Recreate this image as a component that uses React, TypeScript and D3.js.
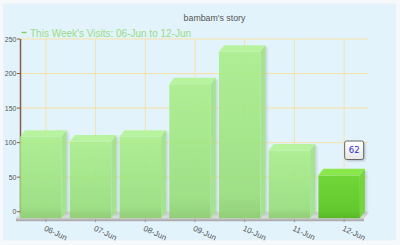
import React from "react";
import * as d3 from "d3";

const title = "bambam's story";
const seriesName = "This Week's Visits: 06-Jun to 12-Jun";
const categories = ["06-Jun", "07-Jun", "08-Jun", "09-Jun", "10-Jun", "11-Jun", "12-Jun"];
const visits = [118, 111, 118, 194, 241, 98, 62];
const yTicks = [0, 50, 100, 150, 200, 250];
const highlighted = "12-Jun";

const W = 400, H = 245;
const DX = 5, DY = 6.5;

export default function App() {
  const y = d3.scaleLinear().domain([0, 250]).range([211.7, 39]);
  const x = d3.scaleBand<string>().domain(categories).range([21, 369]).padding(0);
  const step = x.bandwidth();
  const bw = step * 0.835;
  const y0 = y(0);
  const font = "'Liberation Sans', Arial, sans-serif";

  const hiIdx = categories.indexOf(highlighted);
  const hiCx = (x(highlighted) as number) + step / 2;

  return (
    <div style={{ position: "fixed", left: 0, top: 0 }}>
      <svg width={W} height={H} style={{ display: "block" }}>
        <defs>
          <linearGradient id="frontG" x1="0" y1="0" x2="0" y2="1">
            <stop offset="0" stopColor="#aaee8a" />
            <stop offset="0.85" stopColor="#98de7b" />
            <stop offset="1" stopColor="#8ccd6f" />
          </linearGradient>
          <linearGradient id="frontH" x1="0" y1="0" x2="0" y2="1">
            <stop offset="0" stopColor="#72d838" />
            <stop offset="0.85" stopColor="#62c72e" />
            <stop offset="1" stopColor="#58b828" />
          </linearGradient>
          <linearGradient id="floorG" x1="0" y1="0" x2="0" y2="1">
            <stop offset="0" stopColor="#c8c8c8" />
            <stop offset="1" stopColor="#a4a4a4" />
          </linearGradient>
          <linearGradient id="tipG" x1="0" y1="0" x2="0" y2="1">
            <stop offset="0" stopColor="#ffffff" />
            <stop offset="1" stopColor="#e8e8e8" />
          </linearGradient>
          <filter id="blur1" x="-20%" y="-20%" width="140%" height="140%">
            <feGaussianBlur stdDeviation="1" />
          </filter>
        </defs>
        <rect x={0} y={0} width={W} height={H} fill="#f6f9fb" />
        <rect x={3.5} y={4} width={392} height={236} fill="#e2f3fb" stroke="#e8f2f7" />

        {/* title */}
        <text x={214.5} y={20.5} textAnchor="middle" fontFamily={font} fontSize={8.8} fill="#555">
          {title}
        </text>

        {/* legend */}
        <line x1={21.5} x2={26.5} y1={32.5} y2={32.5} stroke="#7fd65a" strokeWidth={1.5} />
        <text x={30} y={36.5} fontFamily={font} fontSize={10} fill="#9adb86">
          {seriesName}
        </text>

        {/* grid */}
        {yTicks.filter((t) => t > 0).map((t) => (
          <line key={"h" + t} x1={20} x2={368} y1={y(t)} y2={y(t)} stroke="#f6e2a6" strokeWidth={1} />
        ))}
        {categories.map((c) => {
          const cx = (x(c) as number) + step / 2;
          return <line key={"v" + c} x1={cx} x2={cx} y1={39} y2={y0} stroke="#f6e2a6" strokeWidth={1} />;
        })}

        {/* floor */}
        <polygon
          points={`21,${y0} 369,${y0} ${369 - DX},${y0 + DY} ${21 - DX},${y0 + DY}`}
          fill="#d6d8d9"
        />
        <rect x={21 - DX} y={y0 + DY} width={348} height={3} fill="url(#floorG)" />

        {/* y axis */}
        <line x1={20.5} x2={20.5} y1={39} y2={y0 + 2} stroke="#8a5a45" strokeWidth={1.5} />
        {yTicks.map((t) => (
          <g key={"yt" + t}>
            <line x1={17} x2={20} y1={y(t)} y2={y(t)} stroke="#a0522d" strokeWidth={1} />
            <text x={16.5} y={y(t) + 2.5} textAnchor="end" fontFamily={font} fontSize={7} fill="#555">
              {t}
            </text>
          </g>
        ))}

        {/* bars */}
        {categories.map((c, i) => {
          const v = visits[i];
          const cx = (x(c) as number) + step / 2;
          const fx0 = cx - bw / 2 - DX;
          const fx1 = cx + bw / 2 - DX;
          const fyt = y(v) + DY;
          const fyb = y0 + DY;
          const hi = c === highlighted;
          const top = hi ? "#8ae84a" : "#b4f496";
          const side = hi ? "#74d63a" : "#a0e284";
          return (
            <g key={"b" + c} opacity={hi ? 1 : 0.9}>
              <rect
                x={fx1 + 1}
                y={fyt - DY + 2}
                width={DX + 1}
                height={fyb - fyt + 1}
                fill="#8a9aa5"
                opacity={0.35}
                filter="url(#blur1)"
              />
              <rect x={fx0} y={fyt} width={fx1 - fx0} height={fyb - fyt} fill={hi ? "url(#frontH)" : "url(#frontG)"} />
              <polygon
                points={`${fx0},${fyt} ${fx0 + DX},${fyt - DY} ${fx1 + DX},${fyt - DY} ${fx1},${fyt}`}
                fill={top}
              />
              <polygon
                points={`${fx1},${fyt} ${fx1 + DX},${fyt - DY} ${fx1 + DX},${fyb - DY} ${fx1},${fyb}`}
                fill={side}
              />
            </g>
          );
        })}

        {/* x ticks & labels */}
        {categories.map((c) => {
          const cx = (x(c) as number) + step / 2;
          return (
            <g key={"xl" + c}>
              <line x1={cx} x2={cx} y1={y0 + DY + 1} y2={y0 + DY + 4} stroke="#999" strokeWidth={1} />
              <text
                transform={`translate(${cx},${225}) rotate(25)`}
                dy="0.72em"
                fontFamily={font}
                fontSize={8}
                fill="#555"
              >
                {c}
              </text>
            </g>
          );
        })}

        {/* tooltip */}
        {hiIdx >= 0 && (
          <g>
            <rect x={hiCx + 0.5 + 1.5} y={141 + 1.5} width={19} height={18.5} rx={2} fill="#777" opacity={0.45} filter="url(#blur1)" />
            <rect x={hiCx + 0.5} y={141} width={19} height={18.5} rx={2} fill="url(#tipG)" stroke="#666" strokeWidth={1} />
            <text x={hiCx + 10} y={153.2} textAnchor="middle" fontFamily="'DejaVu Sans', Verdana, sans-serif" fontSize={8.5} fill="#2a2ae0">
              {visits[hiIdx]}
            </text>
          </g>
        )}
      </svg>
    </div>
  );
}
